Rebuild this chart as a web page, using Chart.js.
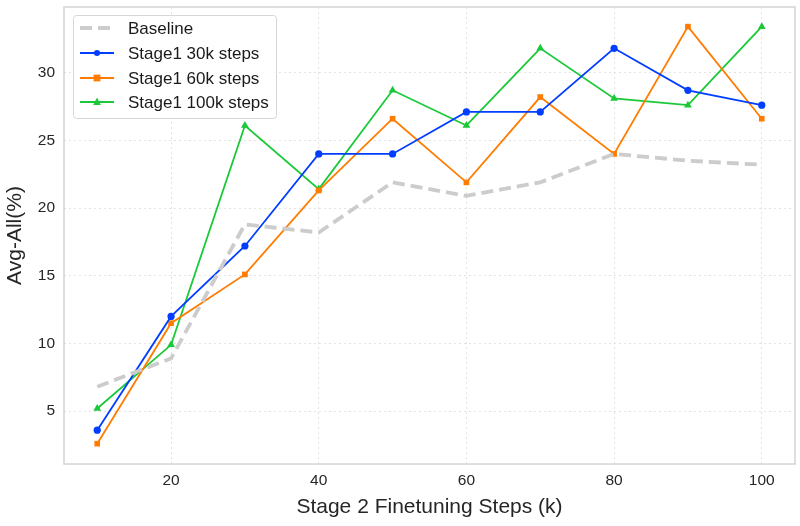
<!DOCTYPE html>
<html>
<head>
<meta charset="utf-8">
<script src="https://cdn.jsdelivr.net/npm/chart.js@4.4.1/dist/chart.umd.min.js"></script>
<style>
  html, body { margin: 0; padding: 0; background: #ffffff; }
  #wrap { width: 800px; height: 526px; position: relative; }
</style>
</head>
<body>
<div id="wrap"><canvas id="c" width="800" height="526"></canvas></div>
<script>
const steps = [10, 20, 30, 40, 50, 60, 70, 80, 90, 100];
const baseline = [6.8, 8.9, 18.8, 18.2, 21.9, 20.9, 21.9, 24.0, 23.5, 23.2];
const stage1_30k = [3.6, 12.0, 17.2, 24.0, 24.0, 27.1, 27.1, 31.8, 28.7, 27.6];
const stage1_60k = [2.6, 11.5, 15.1, 21.3, 26.6, 21.9, 28.2, 24.0, 33.4, 26.6];
const stage1_100k = [5.2, 9.9, 26.1, 21.4, 28.7, 26.1, 31.8, 28.1, 27.6, 33.4];
const xTicks = [20, 40, 60, 80, 100];
const yTicks = [5, 10, 15, 20, 25, 30];
const seriesNames = ['Baseline', 'Stage1 30k steps', 'Stage1 60k steps', 'Stage1 100k steps'];

const FONT = "'Liberation Sans', Arial, sans-serif";

function pts(arr) { return steps.map((x, i) => ({ x: x, y: arr[i] })); }

const frameAndLegend = {
  id: 'frameAndLegend',
  beforeDatasetsDraw(chart) {
    const { ctx, chartArea: a } = chart;
    ctx.save();
    ctx.strokeStyle = '#d4d4d4';
    ctx.lineWidth = 1.5;
    ctx.strokeRect(a.left, a.top, a.right - a.left, a.bottom - a.top);
    ctx.restore();
  },
  afterDraw(chart) {
    const { ctx } = chart;
    const bx = 73, by = 15, bw = 203, bh = 103;
    ctx.save();
    ctx.fillStyle = 'rgba(255,255,255,0.85)';
    ctx.strokeStyle = '#d6d6d6';
    ctx.lineWidth = 1;
    ctx.beginPath();
    ctx.roundRect(bx + 0.5, by + 0.5, bw, bh, 3);
    ctx.fill();
    ctx.stroke();
    const rows = [28, 53, 78, 102];
    chart.data.datasets.forEach((ds, i) => {
      const y = rows[i];
      ctx.strokeStyle = ds.borderColor;
      ctx.lineWidth = ds.borderWidth;
      ctx.setLineDash(ds.borderDash || []);
      ctx.beginPath();
      ctx.moveTo(80, y);
      ctx.lineTo(114, y);
      ctx.stroke();
      ctx.setLineDash([]);
      if (ds.pointRadius > 0) {
        ctx.fillStyle = ds.borderColor;
        const cx = 97, r = ds.pointRadius * 0.85;
        ctx.beginPath();
        if (ds.pointStyle === 'circle') {
          ctx.arc(cx, y, r, 0, Math.PI * 2);
        } else if (ds.pointStyle === 'rect') {
          ctx.rect(cx - r, y - r, 2 * r, 2 * r);
        } else {
          ctx.moveTo(cx, y - r * 1.2);
          ctx.lineTo(cx + r, y + r * 0.8);
          ctx.lineTo(cx - r, y + r * 0.8);
          ctx.closePath();
        }
        ctx.fill();
      }
      ctx.fillStyle = '#1a1a1a';
      ctx.font = '17px ' + FONT;
      ctx.textBaseline = 'middle';
      ctx.textAlign = 'left';
      ctx.fillText(ds.label, 128, y + 1);
    });
    ctx.restore();
  }
};

new Chart(document.getElementById('c'), {
  type: 'line',
  data: {
    datasets: [
      { label: seriesNames[0], data: pts(baseline), borderColor: '#cccccc', backgroundColor: '#cccccc',
        borderWidth: 3.8, borderDash: [12, 6], pointRadius: 0, pointStyle: 'line', tension: 0 },
      { label: seriesNames[1], data: pts(stage1_30k), borderColor: '#023eff', backgroundColor: '#023eff',
        borderWidth: 1.8, pointRadius: 3.6, pointStyle: 'circle', pointBorderWidth: 0, tension: 0 },
      { label: seriesNames[2], data: pts(stage1_60k), borderColor: '#ff7c00', backgroundColor: '#ff7c00',
        borderWidth: 1.8, pointRadius: 4, pointStyle: 'rect', pointBorderWidth: 0, tension: 0 },
      { label: seriesNames[3], data: pts(stage1_100k), borderColor: '#1ac938', backgroundColor: '#1ac938',
        borderWidth: 1.8, pointRadius: 4.5, pointStyle: 'triangle', pointBorderWidth: 0, tension: 0 }
    ]
  },
  options: {
    responsive: false,
    animation: false,
    devicePixelRatio: 1,
    layout: { padding: { top: 7, right: 5, left: 0, bottom: 0 } },
    plugins: { legend: { display: false }, tooltip: { enabled: false } },
    scales: {
      x: {
        type: 'linear', min: 5.5, max: 104.5,
        afterBuildTicks(s) { s.ticks = xTicks.map(v => ({ value: v })); },
        afterFit(s) { s.height = 62; s.paddingLeft = 0; s.paddingRight = 0; },
        grid: { color: '#e3e3e3', lineWidth: 1, drawTicks: false },
        border: { display: false, dash: [2, 3] },
        ticks: { color: '#262626', font: { family: FONT, size: 15.5 }, padding: 7, maxRotation: 0 },
        title: { display: true, text: 'Stage 2 Finetuning Steps (k)', color: '#262626',
                 font: { family: FONT, size: 21 }, padding: { top: 4, bottom: 6 } }
      },
      y: {
        type: 'linear', min: 1.1, max: 34.85,
        afterBuildTicks(s) { s.ticks = yTicks.map(v => ({ value: v })); },
        afterFit(s) { s.width = 64; s.paddingTop = 0; s.paddingBottom = 0; },
        grid: { color: '#e3e3e3', lineWidth: 1, drawTicks: false },
        border: { display: false, dash: [2, 3] },
        ticks: { color: '#262626', font: { family: FONT, size: 15.5 }, padding: 9 },
        title: { display: true, text: 'Avg-All(%)', color: '#262626',
                 font: { family: FONT, size: 21 }, padding: { top: 3, bottom: 4 } }
      }
    }
  },
  plugins: [frameAndLegend]
});
</script>
</body>
</html>
